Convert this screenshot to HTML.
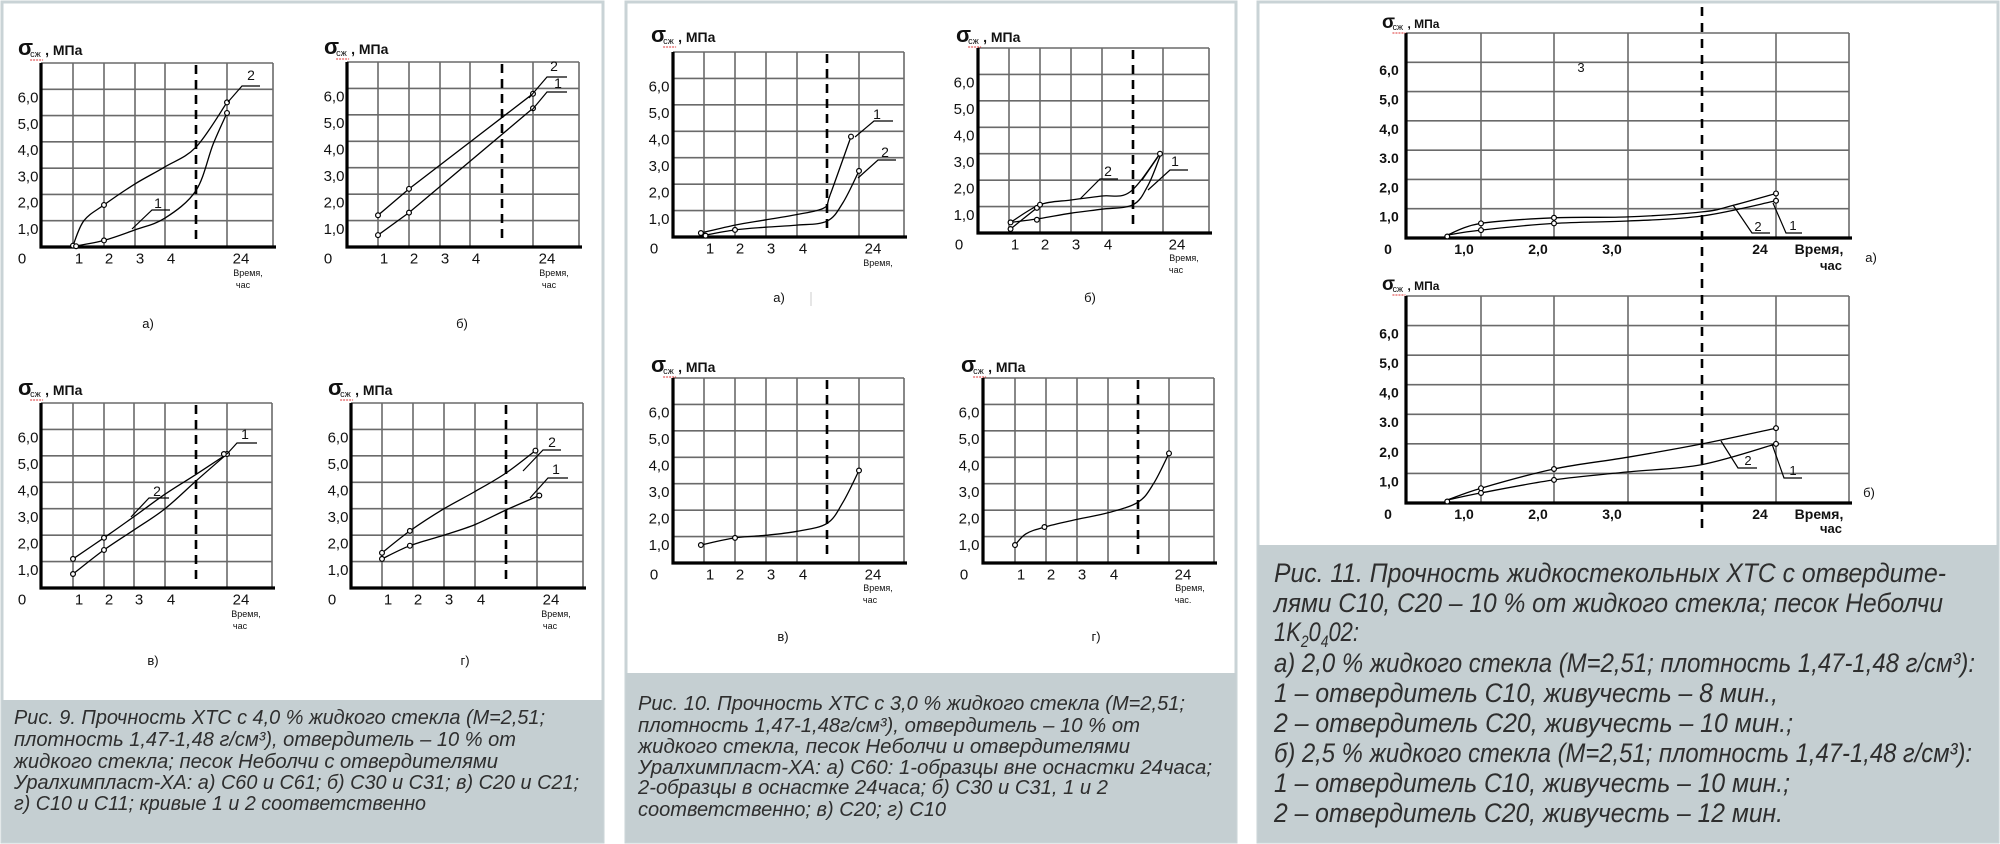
<!DOCTYPE html>
<html><head><meta charset="utf-8">
<style>
html,body{margin:0;padding:0;background:#fff;}
svg{display:block;}
.t{font-family:"Liberation Sans","DejaVu Sans",sans-serif;fill:#111;}
.cap{font-family:"Liberation Sans","DejaVu Sans",sans-serif;font-style:italic;fill:#2e2e2e;}
</style></head>
<body>
<svg id="s" width="2000" height="844" viewBox="0 0 2000 844" xmlns="http://www.w3.org/2000/svg">
<rect x="0" y="0" width="2000" height="844" fill="#fff"/>
<!-- panel frames -->
<rect x="2" y="2" width="601" height="840" fill="#fff" stroke="#c9d3d6" stroke-width="3"/>
<rect x="626" y="2" width="610" height="840" fill="#fff" stroke="#c9d3d6" stroke-width="3"/>
<rect x="1258" y="2" width="740" height="840" fill="#fff" stroke="#c9d3d6" stroke-width="3"/>
<rect x="2" y="700" width="601" height="142" fill="#c5cfd2"/>
<rect x="626" y="673" width="610" height="169" fill="#c5cfd2"/>
<rect x="1258" y="545" width="740" height="297" fill="#c5cfd2"/>
<g id="g"></g>

<g class="cap" font-size="20">
<text x="14" y="724" textLength="531" lengthAdjust="spacingAndGlyphs">Рис. 9. Прочность ХТС с 4,0 % жидкого стекла (М=2,51;</text>
<text x="14" y="746" textLength="502" lengthAdjust="spacingAndGlyphs">плотность 1,47-1,48 г/см³), отвердитель – 10 % от</text>
<text x="14" y="768" textLength="484" lengthAdjust="spacingAndGlyphs">жидкого стекла; песок Неболчи с отвердителями</text>
<text x="14" y="789" textLength="565" lengthAdjust="spacingAndGlyphs">Уралхимпласт-ХА: а) С60 и С61; б) С30 и С31; в) С20 и С21;</text>
<text x="14" y="810" textLength="412" lengthAdjust="spacingAndGlyphs">г) С10 и С11; кривые 1 и 2 соответственно</text>
</g>
<g class="cap" font-size="20">
<text x="638" y="710" textLength="547" lengthAdjust="spacingAndGlyphs">Рис. 10. Прочность ХТС с 3,0 % жидкого стекла (М=2,51;</text>
<text x="638" y="732" textLength="502" lengthAdjust="spacingAndGlyphs">плотность 1,47-1,48г/см³), отвердитель – 10 % от</text>
<text x="638" y="753" textLength="492" lengthAdjust="spacingAndGlyphs">жидкого стекла, песок Неболчи и отвердителями</text>
<text x="638" y="774" textLength="574" lengthAdjust="spacingAndGlyphs">Уралхимпласт-ХА: а) С60: 1-образцы вне оснастки 24часа;</text>
<text x="638" y="794" textLength="470" lengthAdjust="spacingAndGlyphs">2-образцы в оснастке 24часа; б) С30 и С31, 1 и 2</text>
<text x="638" y="816" textLength="308" lengthAdjust="spacingAndGlyphs">соответственно; в) С20; г) С10</text>
</g>
<g class="cap" font-size="27">
<text x="1274" y="582" textLength="672" lengthAdjust="spacingAndGlyphs">Рис. 11. Прочность жидкостекольных ХТС с отвердите-</text>
<text x="1274" y="612" textLength="669" lengthAdjust="spacingAndGlyphs">лями С10, С20 – 10 % от жидкого стекла; песок Неболчи</text>
<text x="1274" y="641" textLength="85" lengthAdjust="spacingAndGlyphs">1K<tspan font-size="17" dy="6">2</tspan><tspan dy="-6">0</tspan><tspan font-size="17" dy="6">4</tspan><tspan dy="-6">02:</tspan></text>
<text x="1274" y="672" textLength="701" lengthAdjust="spacingAndGlyphs">а) 2,0 % жидкого стекла (М=2,51; плотность 1,47-1,48 г/см³):</text>
<text x="1274" y="702" textLength="504" lengthAdjust="spacingAndGlyphs">1 – отвердитель С10, живучесть – 8 мин.,</text>
<text x="1274" y="732" textLength="519" lengthAdjust="spacingAndGlyphs">2 – отвердитель С20, живучесть – 10 мин.;</text>
<text x="1274" y="762" textLength="698" lengthAdjust="spacingAndGlyphs">б) 2,5 % жидкого стекла (М=2,51; плотность 1,47-1,48 г/см³):</text>
<text x="1274" y="792" textLength="516" lengthAdjust="spacingAndGlyphs">1 – отвердитель С10, живучесть – 10 мин.;</text>
<text x="1274" y="822" textLength="509" lengthAdjust="spacingAndGlyphs">2 – отвердитель С20, живучесть – 12 мин.</text>
</g>
</svg>
<script>
var NS="http://www.w3.org/2000/svg",G=document.getElementById("g");
function el(n,a,txt){var e=document.createElementNS(NS,n);for(var k in a)e.setAttribute(k,a[k]);if(txt!=null)e.textContent=txt;G.appendChild(e);return e;}
function line(x1,y1,x2,y2,a){var o={x1:x1,y1:y1,x2:x2,y2:y2,stroke:"#000","stroke-width":1.3};for(var k in a)o[k]=a[k];return el("line",o);}
function txt(x,y,s,a){var o={x:x,y:y,"class":"t","text-anchor":"middle"};for(var k in a)o[k]=a[k];return el("text",o,s);}
function smooth(P){var d="M"+P[0][0].toFixed(1)+","+P[0][1].toFixed(1);
 for(var i=0;i<P.length-1;i++){var p0=P[i-1]||P[i],p1=P[i],p2=P[i+1],p3=P[i+2]||p2;
  var c1=[p1[0]+(p2[0]-p0[0])/6,p1[1]+(p2[1]-p0[1])/6],c2=[p2[0]-(p3[0]-p1[0])/6,p2[1]-(p3[1]-p1[1])/6];
  d+=" C"+c1[0].toFixed(1)+","+c1[1].toFixed(1)+" "+c2[0].toFixed(1)+","+c2[1].toFixed(1)+" "+p2[0].toFixed(1)+","+p2[1].toFixed(1);}
 return d;}
function chart(o){
 var xs=[o.L].concat(o.g).concat([o.R]);
 var rh=(o.B-o.T)/7;
 function X(u){var i=Math.floor(u);if(i<0)i=0;if(i>xs.length-2)i=xs.length-2;return xs[i]+(u-i)*(xs[i+1]-xs[i]);}
 function Y(v){return o.B-v*rh;}
 // grid
 for(var v=1;v<=7;v++)line(o.L,Y(v),o.R,Y(v),{stroke:"#6a6a6a","stroke-width":1.6});
 for(var i=0;i<o.g.length;i++){ if(i===o.di) continue; line(o.g[i],o.T,o.g[i],o.B,{stroke:"#6a6a6a","stroke-width":1.6});}
 line(o.R,o.T,o.R,o.B,{stroke:"#6a6a6a","stroke-width":1.6});
 // dashed
 if(!o.nodash) line(o.g[o.di],o.T+(o.dt||2),o.g[o.di],o.B-4,{"stroke-width":2.6,"stroke-dasharray":"9,6"});
 // axes
 line(o.L,o.T,o.L,o.B+1.5,{"stroke-width":3.2});
 line(o.L-1.5,o.B,o.R+3,o.B,{"stroke-width":3.2});
 var fs=o.fs||15,fw=o.fw||"normal";
 var yl=o.yl||["1,0","2,0","3,0","4,0","5,0","6,0"];
 for(var v=1;v<=6;v++)txt(o.L-o.lx,Y(v)+8+fs*0.35,yl[v-1],{"font-size":fs,"font-weight":fw});
 // x labels
 o.xl.forEach(function(a){txt(a[0],o.B+11+fs*0.35,a[1],{"font-size":fs,"font-weight":fw});});
 // sigma label
 var sx=o.sx,sy=o.sy;
 txt(sx,sy,"σ",{"text-anchor":"start","font-size":o.sfs||22,"font-weight":"bold"});
 txt(sx+(o.sfs||22)*0.55,sy+2,"сж",{"text-anchor":"start","font-size":9});
 line(sx+(o.sfs||22)*0.55,sy+5,sx+(o.sfs||22)*0.55+13,sy+5,{stroke:"#d33","stroke-width":1,"stroke-dasharray":"2,1"});
 txt(sx+(o.sfs||22)*0.55+15,sy,", МПа",{"text-anchor":"start","font-size":o.mfs||14,"font-weight":"bold"});
 // curves
 (o.curves||[]).forEach(function(c){var P=c.map(function(p){return [X(p[0]),Y(p[1])];});
  el("path",{d:smooth(P),fill:"none",stroke:"#000","stroke-width":1.3});});
 (o.lines||[]).forEach(function(c){var P=c.map(function(p){return X(p[0]).toFixed(1)+","+Y(p[1]).toFixed(1);});
  el("polyline",{points:P.join(" "),fill:"none",stroke:"#000","stroke-width":1.3});});
 (o.pts||[]).forEach(function(p){el("circle",{cx:X(p[0]),cy:Y(p[1]),r:2.4,fill:"#fff",stroke:"#000","stroke-width":1.2});});
 (o.lead||[]).forEach(function(l){el("polyline",{points:l.p.map(function(q){return q.join(",");}).join(" "),fill:"none",stroke:"#000","stroke-width":1.2});
  txt(l.t[0],l.t[1],l.t[2],{"font-size":o.lfs||14,"font-weight":o.lfw||"normal"});});
 (o.extra||[]).forEach(function(e){txt(e[0],e[1],e[2],e[3]||{});});
}
function small(x,y,s){return [x,y,s,{"font-size":9}];}
function xl6(L,g,z){return [[L-19,"0"],[g[0]+6,"1"],[g[1]+5,"2"],[g[2]+5,"3"],[g[3]+6,"4"],[g[5]+14,"24"]];}

// Panel 1
var g;
g=[73,104,135,165,196,227];
chart({L:41,T:63,B:247,R:273,g:g,di:4,lx:13,sx:18,sy:55,xl:xl6(41,g),
 curves:[[[1,0.05],[1.35,1.0],[2,1.6],[3,2.4],[4,3.05],[5,3.8],[6,5.5]],
         [[1,0.02],[2,0.25],[3,0.65],[4,1.1],[5,2.15],[5.55,3.9],[6,5.1]]],
 pts:[[1,0.05],[1.1,0.03],[2,1.6],[6,5.5],[2,0.25],[6,5.1]],
 lead:[{p:[[228,102],[242,86],[260,86]],t:[251,80,"2"]},{p:[[132,229],[152,210],[170,210]],t:[158,208,"1"]}],
 extra:[small(248,276,"Время,"),small(243,288,"час"),[148,328,"а)",{"font-size":13}]]});
g=[378,409,440,470,502,533];
chart({L:347,T:62,B:247,R:579,g:g,di:4,lx:13,sx:324,sy:54,xl:xl6(347,g),
 lines:[[[1,1.2],[2,2.2],[6,5.8]],[[1,0.45],[2,1.3],[6,5.25]]],
 pts:[[1,1.2],[2,2.2],[6,5.8],[1,0.45],[2,1.3],[6,5.25]],
 lead:[{p:[[529,98],[547,77],[567,77]],t:[554,71,"2"]},{p:[[532,110],[547,92],[567,92]],t:[558,88,"1"]}],
 extra:[small(554,276,"Время,"),small(549,288,"час"),[462,328,"б)",{"font-size":13}]]});
g=[73,104,134,165,196,227];
chart({L:41,T:403,B:588,R:272,g:g,di:4,lx:13,sx:18,sy:395,xl:xl6(41,g),
 curves:[[[1,1.1],[2,1.9],[3,2.7],[4,3.55],[5,4.3],[6,5.07]],
         [[1,0.53],[2,1.44],[3,2.2],[4,3.0],[5,4.05],[6,5.07]]],
 pts:[[1,1.1],[2,1.9],[1,0.53],[2,1.44],[6,5.07],[5.9,5.07]],
 lead:[{p:[[227,454],[237,443],[257,443]],t:[245,439,"1"]},{p:[[131,517],[149,498],[169,498]],t:[157,496,"2"]}],
 extra:[small(246,617,"Время,"),small(240,629,"час"),[153,665,"в)",{"font-size":13}]]});
g=[382,413,444,475,506,537];
chart({L:351,T:403,B:588,R:583,g:g,di:4,lx:13,sx:328,sy:395,xl:xl6(351,g),
 curves:[[[1,1.33],[1.9,2.16],[3,3.0],[4,3.65],[5,4.35],[5.95,5.2]],
         [[1,1.1],[1.9,1.6],[3,2.0],[4,2.4],[5,2.95],[6.05,3.5]]],
 pts:[[1,1.33],[1.9,2.16],[5.95,5.2],[1,1.1],[1.9,1.6],[6.05,3.5]],
 lead:[{p:[[523,471],[543,450],[561,450]],t:[552,447,"2"]},{p:[[530,498],[548,478],[568,478]],t:[556,474,"1"]}],
 extra:[small(556,617,"Время,"),small(550,629,"час"),[465,665,"г)",{"font-size":13}]]});

// Panel 2
g=[704,735,766,797,827,859];
chart({L:673,T:52,B:237,R:904,g:g,di:4,lx:14,sx:651,sy:42,xl:xl6(673,g),
 curves:[[[0.9,0.15],[2,0.45],[3,0.65],[4,0.85],[4.9,1.1],[5.1,1.6],[5.75,3.8]],
         [[0.95,0.05],[2,0.27],[3,0.37],[4,0.45],[5,0.6],[5.5,1.3],[6,2.5]]],
 pts:[[0.9,0.15],[1.05,0.05],[2,0.27],[5.75,3.8],[6,2.5]],
 lead:[{p:[[855,137],[874,121],[893,121]],t:[877,119,"1"]},{p:[[858,178],[878,160],[896,160]],t:[885,157,"2"]}],
 extra:[small(878,266,"Время,"),[779,302,"а)",{"font-size":13}]]});
line(811,292,811,306,{stroke:"#ccc","stroke-width":1});
g=[1009,1040,1071,1102,1133,1163];
chart({L:978,T:48,B:233,R:1209,g:g,di:4,lx:14,sx:956,sy:42,xl:xl6(978,g),
 curves:[[[1.05,0.4],[2,1.07],[3,1.25],[4,1.4],[4.9,1.55],[5.9,3.0]],
         [[1.05,0.4],[2,0.55],[3,0.75],[4,0.9],[5,1.07],[5.5,1.8],[5.9,2.9]]],
 lines:[[[1.05,0.15],[1.9,0.95]],[[5.3,2.0],[5.9,3.0]]],
 pts:[[1.05,0.4],[1.05,0.15],[1.9,0.95],[2,1.07],[1.9,0.5],[5.9,3.0]],
 lead:[{p:[[1080,199],[1100,179],[1118,179]],t:[1108,176,"2"]},{p:[[1148,190],[1170,170],[1188,170]],t:[1175,166,"1"]}],
 extra:[small(1184,261,"Время,"),small(1176,273,"час"),[1090,302,"б)",{"font-size":13}]]});
g=[704,735,766,797,827,859];
chart({L:673,T:378,B:563,R:904,g:g,di:4,lx:14,sx:651,sy:372,xl:xl6(673,g),
 curves:[[[0.9,0.68],[2,0.95],[3,1.05],[4,1.2],[5,1.5],[5.5,2.3],[6,3.5]]],
 pts:[[0.9,0.68],[2,0.95],[6,3.5]],
 extra:[small(878,591,"Время,"),small(870,603,"час"),[783,641,"в)",{"font-size":13}]]});
g=[1015,1046,1077,1108,1138,1169];
chart({L:983,T:378,B:563,R:1214,g:g,di:4,lx:14,sx:961,sy:372,xl:xl6(983,g),
 curves:[[[1,0.68],[1.35,1.1],[1.95,1.36],[3,1.65],[4,1.9],[5,2.3],[5.5,3.0],[6,4.15]]],
 pts:[[1,0.68],[1.95,1.36],[6,4.15]],
 extra:[small(1190,591,"Время,"),small(1183,603,"час."),[1096,641,"г)",{"font-size":13}]]});

// Panel 3
g=[1481,1554,1628,1702,1776];
var xl3=[[1388,"0"],[1464,"1,0"],[1538,"2,0"],[1612,"3,0"],[1760,"24"],[1819,"Время,"]];
var yl3=["1,0","2,0","3.0","4,0","5,0","6,0"];
chart({L:1406,T:33,B:238,R:1849,g:g,di:3,nodash:true,lx:17,fs:14,fw:"bold",yl:yl3,sx:1382,sy:28,sfs:19,mfs:12,xl:xl3,
 curves:[[[0.55,0.1],[1,0.5],[2,0.69],[3,0.72],[4,0.89],[4.4,1.1],[5,1.52]],
         [[0.55,0.1],[1,0.27],[2,0.5],[3,0.58],[4,0.75],[5,1.27]]],
 pts:[[0.55,0.05],[1,0.5],[1,0.27],[2,0.69],[2,0.5],[5,1.52],[5,1.27]],
 lead:[{p:[[1733,205],[1752,233],[1770,233]],t:[1758,231,"2"]},{p:[[1773,203],[1786,233],[1802,233]],t:[1793,230,"1"]}],lfs:13,
 extra:[[1831,270,"час",{"font-size":13,"font-weight":"bold"}],[1871,262,"а)",{"font-size":13}],[1581,72,"3",{"font-size":13}]]});
chart({L:1406,T:296,B:503,R:1849,g:g,di:3,nodash:true,lx:17,fs:14,fw:"bold",yl:yl3,sx:1382,sy:290,sfs:19,mfs:12,
 xl:[[1388,"0"],[1464,"1,0"],[1538,"2,0"],[1612,"3,0"],[1760,"24"],[1819,"Время,"]],
 curves:[[[0.55,0.1],[1,0.5],[2,1.15],[3,1.55],[4,2.0],[5,2.53]],
         [[0.55,0.1],[1,0.34],[2,0.78],[3,1.05],[4,1.3],[5,2.0]]],
 pts:[[0.55,0.05],[1,0.5],[1,0.34],[2,1.15],[2,0.78],[5,2.53],[5,2.0]],
 lead:[{p:[[1721,441],[1738,468],[1757,468]],t:[1748,465,"2"]},{p:[[1772,444],[1784,478],[1802,478]],t:[1793,475,"1"]}],lfs:13,
 extra:[[1831,533,"час",{"font-size":13,"font-weight":"bold"}],[1869,497,"б)",{"font-size":13}]]});
line(1702,7,1702,528,{"stroke-width":2.6,"stroke-dasharray":"9,7"});
</script>
</body></html>
